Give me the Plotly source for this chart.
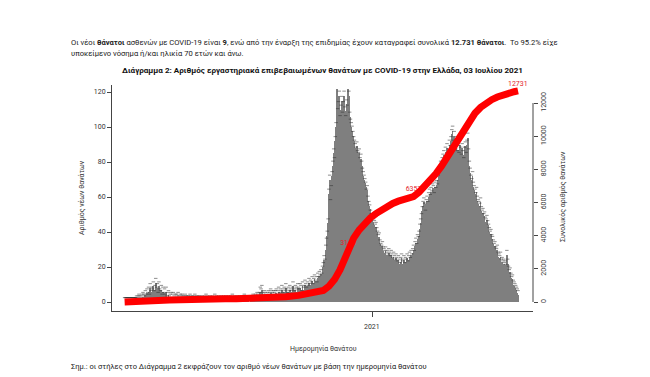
import pandas as pd
import plotly.graph_objects as go

# ---------------- data ----------------
start_date = "2020-02-26"
deaths_2020_02 = [0, 0, 0, 0]
deaths_2020_03 = [0,0,0,0,0,0,0,0,0,0,0,1,0,1,2,1,0,1,2,3,2,1,4,2,5,3,6,2,8,4,6]
deaths_2020_04 = [5,9,4,7,11,6,8,3,9,5,4,7,2,6,3,5,2,6,1,3,4,1,2,3,0,2,3,1,0,2]
deaths_2020_05 = [2,1,3,1,0,2,1,2,1,0,1,2,1,0,1,1,0,2,1,0,1,0,1,2,0,1,0,1,0,1,0]
deaths_2020_06 = [0,1,0,0,1,0,2,0,1,0,0,1,0,0,1,0,0,2,0,1,0,0,1,0,0,1,0,0,1,0]
deaths_2020_07 = [0,1,0,0,1,0,0,1,0,2,0,0,1,0,0,1,0,0,1,0,0,1,0,0,2,0,1,0,0,1,0]
deaths_2020_08 = [0,1,1,0,2,1,1,2,1,3,2,1,3,6,5,7,3,2,4,3,2,1,3,4,2,3,5,4,3,2,4]
deaths_2020_09 = [3,4,5,2,4,6,3,5,4,7,3,5,6,4,8,5,3,6,4,7,5,4,6,9,5,4,7,6,5,8]
deaths_2020_10 = [6,5,8,7,4,9,6,7,10,8,6,9,7,11,8,10,9,12,8,11,13,10,12,9,14,12,15,13,16,14,18]
deaths_2020_11 = [20,24,22,30,34,38,45,62,70,56,64,72,78,85,80,92,100,122,108,112,
                  118,104,110,115,106,112,118,109,104,113]
deaths_2020_12 = [110,122,118,106,102,100,98,95,92,90,88,86,89,84,83,85,80,82,78,74,
                  72,70,68,66,62,64,58,55,53,50,48]
deaths_2021_01 = [48,46,45,44,42,43,40,38,36,37,33,31,30,32,29,28,27,29,26,27,
                  25,28,26,24,27,25,23,26,24,22,25]
deaths_2021_02 = [23,21,24,22,20,23,25,21,22,24,20,23,22,25,21,24,26,23,27,25,
                  28,30,27,32,34,31,36,35]
deaths_2021_03 = [38,42,45,48,52,55,57,54,50,56,58,55,60,62,59,63,61,65,64,60,
                  66,63,67,65,70,72,75,78,74,80,82]
deaths_2021_04 = [84,78,86,80,88,82,85,90,87,92,96,98,90,95,88,85,92,84,87,83,
                  90,86,82,88,84,80,86,89,83,90]
deaths_2021_05 = [94,85,78,74,70,68,72,66,64,62,60,63,58,56,55,54,57,52,50,51,
                  48,49,46,45,47,44,42,40,38,39,36]
deaths_2021_06 = [35,33,31,32,29,28,30,26,25,24,26,22,23,21,22,20,21,19,27,22,
                  18,16,17,14,12,13,10,9,8,7]
deaths_2021_07 = [6, 5, 4]

cum_dates = ["2020-02-26","2020-03-12","2020-03-22","2020-04-01","2020-04-08","2020-04-15",
             "2020-04-22","2020-05-01","2020-05-15","2020-06-01","2020-06-15","2020-07-01",
             "2020-07-15","2020-08-01","2020-08-15","2020-09-01","2020-09-15","2020-10-01",
             "2020-10-15","2020-10-25","2020-11-01","2020-11-08","2020-11-15","2020-11-22",
             "2020-11-29","2020-12-02","2020-12-09","2020-12-16","2020-12-23","2020-12-30",
             "2021-01-06","2021-01-13","2021-01-20","2021-01-27","2021-02-03","2021-02-10",
             "2021-02-17","2021-02-22","2021-03-01","2021-03-08","2021-03-15","2021-03-22",
             "2021-03-29","2021-04-05","2021-04-12","2021-04-19","2021-04-26","2021-05-03",
             "2021-05-10","2021-05-17","2021-05-24","2021-05-31","2021-06-07","2021-06-14",
             "2021-06-21","2021-06-28","2021-07-03"]
cum_values = [0,1,15,50,80,105,
              120,140,160,175,185,192,
              198,210,235,270,320,400,
              490,570,690,950,1350,1950,
              2760,3140,3850,4350,4750,5080,
              5330,5560,5760,5940,6080,6190,
              6280,6357,6620,6960,7330,7730,
              8190,8720,9300,9880,10440,10950,
              11380,11730,12000,12200,12360,12490,
              12590,12680,12731]

label_dates = ["2020-12-02", "2021-02-22", "2021-07-03"]
label_values = [3140, 6357, 12731]

left_ticks = [0, 20, 40, 60, 80, 100, 120]
right_ticks = [0, 2000, 4000, 6000, 8000, 10000, 12000]
x_tick_dates = ["2021-01-01"]
x_tick_labels = ["2021"]

# ---------------- build ----------------
months = [deaths_2020_02, deaths_2020_03, deaths_2020_04, deaths_2020_05, deaths_2020_06,
          deaths_2020_07, deaths_2020_08, deaths_2020_09, deaths_2020_10, deaths_2020_11,
          deaths_2020_12, deaths_2021_01, deaths_2021_02, deaths_2021_03, deaths_2021_04,
          deaths_2021_05, deaths_2021_06, deaths_2021_07]
daily_deaths = [v for m in months for v in m]
dates = pd.date_range(start_date, periods=len(daily_deaths), freq="D")

W, H = 650, 377
L, R, T, B = 112, 117, 85, 66
PW, PH = W - L - R, H - T - B


def px(x):
    return (x - L) / PW


def py(y):
    return (H - B - y) / PH


# x scale: 2021-01-01 at pixel 372, 0.798 px per day
ref = pd.Timestamp("2021-01-01")
ppd = 0.798
x0 = ref - pd.Timedelta(days=(372 - L) / ppd)
x1 = ref + pd.Timedelta(days=(L + PW - 372) / ppd)

# y scales: left 0->302px, 120->92px ; right 0->302px, 12000->103px
l_per = (302 - 92) / 120.0
r_per = (302 - 103) / 12000.0
y1_range = [-(H - B - 302) / l_per, (302 - T) / l_per]
y2_range = [-(H - B - 302) / r_per, (302 - T) / r_per]

FONT = "Roboto"
AX = "#444444"
TXT = "#222222"
LBL_RED = "#e3222b"

fig = go.Figure()
fig.add_trace(go.Bar(x=dates, y=daily_deaths, marker=dict(color="#7f7f7f", line=dict(width=0)),
                     yaxis="y", hoverinfo="skip"))
fig.add_trace(go.Scatter(x=dates, y=[v + 2.5 for v in daily_deaths], mode="markers",
                         marker=dict(symbol="line-ew", size=2.5,
                                     line=dict(width=1, color="rgba(50,50,50,0.55)")),
                         yaxis="y", hoverinfo="skip"))
# intermediate labels sit 7 px above their points, drawn under the red line
fig.add_trace(go.Scatter(x=label_dates[:-1], y=[v + 7 / r_per for v in label_values[:-1]],
                         mode="text", text=[str(v) for v in label_values[:-1]],
                         textposition="middle center",
                         textfont=dict(family=FONT, size=7, color=LBL_RED),
                         yaxis="y2", hoverinfo="skip"))
fig.add_trace(go.Scatter(x=cum_dates, y=cum_values, mode="lines",
                         line=dict(color="#ff0000", width=7), yaxis="y2", hoverinfo="skip"))

fig.update_layout(
    width=W, height=H, margin=dict(l=L, r=R, t=T, b=B),
    paper_bgcolor="white", plot_bgcolor="white", showlegend=False, bargap=0,
    font=dict(family=FONT, color=TXT),
    xaxis=dict(type="date", range=[x0, x1], showgrid=False, zeroline=False,
               showline=True, linecolor=AX, linewidth=1,
               tickvals=x_tick_dates, ticktext=x_tick_labels, showticklabels=False,
               ticks="outside", ticklen=5, tickcolor=AX),
    yaxis=dict(range=y1_range, showgrid=False, zeroline=False,
               showline=True, linecolor=AX, linewidth=1,
               tickvals=left_ticks, ticks="outside", ticklen=4, tickcolor=AX,
               tickfont=dict(size=7, color="#333333")),
    yaxis2=dict(range=y2_range, overlaying="y", side="right", showgrid=False,
                zeroline=False, showline=False,
                tickvals=right_ticks, ticktext=[str(v) for v in right_ticks],
                ticks="outside", ticklen=4, tickcolor=AX,
                tickangle=-90, tickfont=dict(size=7, color="#333333")),
    shapes=[dict(type="line", xref="paper", x0=1, x1=1, yref="y2", y0=0, y1=12000,
                 line=dict(color=AX, width=1))],
)

ann = []
# final total label above the end of the red line
ann.append(dict(x=label_dates[-1], y=label_values[-1], xref="x", yref="y2", yshift=7,
                xanchor="center", yanchor="middle", showarrow=False,
                font=dict(size=7, color=LBL_RED), text=str(label_values[-1])))
for d, t in zip(x_tick_dates, x_tick_labels):
    ann.append(dict(x=d, y=py(327), xref="x", yref="paper", xanchor="center", yanchor="middle",
                    showarrow=False, font=dict(size=7, color="#333333"), text=t))
ann.append(dict(x=px(69), y=py(43), xref="paper", yref="paper", xanchor="left", yanchor="middle",
                showarrow=False, font=dict(size=7.6, color=TXT),
                text="Οι νέοι <b>θάνατοι</b> ασθενών με COVID-19 είναι <b>9</b>, ενώ από την έναρξη της "
                     "επιδημίας έχουν καταγραφεί συνολικά <b>12.731 θάνατοι</b>.  Το 95.2% είχε"))
ann.append(dict(x=px(69), y=py(54), xref="paper", yref="paper", xanchor="left", yanchor="middle",
                showarrow=False, font=dict(size=7.6, color=TXT),
                text="υποκείμενο νόσημα ή/και ηλικία 70 ετών και άνω."))
ann.append(dict(x=px(322), y=py(70), xref="paper", yref="paper", xanchor="center", yanchor="middle",
                showarrow=False, font=dict(size=8.1, color="#111111"),
                text="<b>Διάγραμμα 2: Αριθμός εργαστηριακά επιβεβαιωμένων θανάτων με COVID-19 "
                     "στην Ελλάδα, 03 Ιουλίου 2021</b>"))
ann.append(dict(x=px(81), y=py(198), xref="paper", yref="paper", xanchor="center", yanchor="middle",
                showarrow=False, textangle=-90, font=dict(size=7, color="#333333"),
                text="Αριθμός νέων θανάτων"))
ann.append(dict(x=px(562), y=py(197), xref="paper", yref="paper", xanchor="center", yanchor="middle",
                showarrow=False, textangle=-90, font=dict(size=7, color="#333333"),
                text="Συνολικός αριθμός θανάτων"))
ann.append(dict(x=px(323), y=py(348), xref="paper", yref="paper", xanchor="center", yanchor="middle",
                showarrow=False, font=dict(size=7, color="#333333"),
                text="Ημερομηνία θανάτου"))
ann.append(dict(x=px(69), y=py(366), xref="paper", yref="paper", xanchor="left", yanchor="middle",
                showarrow=False, font=dict(size=7.5, color=TXT),
                text="Σημ.: οι στήλες στο Διάγραμμα 2 εκφράζουν τον αριθμό νέων θανάτων με βάση "
                     "την ημερομηνία θανάτου"))
fig.update_layout(annotations=ann)

fig.write_html("out.html")
